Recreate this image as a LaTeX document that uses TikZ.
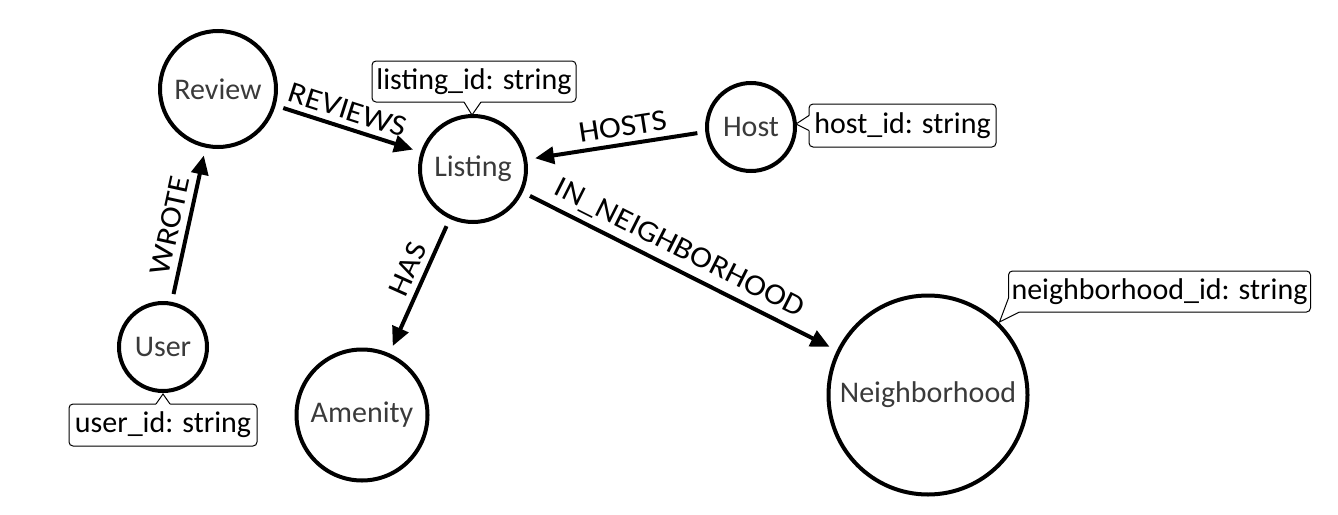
\documentclass[tikz,border=0pt]{standalone}
\usepackage{fontspec}
\setmainfont{Carlito}
\newfontfamily\edgefont[FakeStretch=1.1]{Carlito}
\usetikzlibrary{arrows.meta,calc}
\definecolor{nodegray}{HTML}{3A3A3A}
\begin{document}
\begin{tikzpicture}[x=1pt,y=-1pt,
  ent/.style={circle,draw,line width=4pt,inner sep=0pt,outer sep=0pt,text=nodegray,font=\fontsize{30}{34}\selectfont},
  rel/.style={line width=4pt,-{Triangle[length=19pt,width=17pt]},shorten <=10pt,shorten >=10pt},
  rlbl/.style={font=\edgefont\fontsize{30}{34}\selectfont,sloped,above=4pt,inner sep=2pt},
  prop/.style={draw,line width=1pt,rounded corners=4pt,fill=white,inner xsep=3pt,inner ysep=0pt,outer sep=0pt,minimum height=41pt,font=\fontsize{30}{34}\selectfont},
  ptr/.style={line width=1pt,line join=miter}
]
\useasboundingbox (0,0) rectangle (1338,514);

% entities
\node[ent,minimum size=116pt] (review) at (218,89) {Review};
\node[ent,minimum size=106pt] (listing) at (473,169) {Listing};
\node[ent,minimum size=88pt] (host) at (751,127) {Host};
\node[ent,minimum size=88pt] (user) at (163,347) {User};
\node[ent,minimum size=131pt] (amenity) at (362,415) {Amenity};
\node[ent,minimum size=199pt] (hood) at (928,395) {Neighborhood};

% relationships
\draw[rel] (user.79) -- node[rlbl,pos=0.47] {WROTE} (review.258);
\draw[rel] (review.-16) -- node[rlbl,pos=0.46] {REVIEWS} (listing.162);
\draw[rel] (host.186) -- node[rlbl,pos=0.45] {HOSTS} (listing.10);
\draw[rel] (listing.245) -- node[rlbl,pos=0.43] {HAS} (amenity.66);
\draw[rel] (listing.-25) -- node[rlbl,pos=0.47] {IN\_NEIGHBORHOOD} (hood.154);

% property callouts
\node[prop,minimum width=204pt] (plist) at (474,81.5) {listing\_id: string};
\coordinate (plistA) at ($(plist.south)+(-10,0)$);
\coordinate (plistB) at ($(plist.south)+(7,0)$);
\coordinate (plistT) at ($(listing.north)+(-1,-1)$);
\fill[white] ($(plistA)+(0,-1.5)$) -- (plistA) -- (plistT) -- (plistB) -- ($(plistB)+(0,-1.5)$) -- cycle;
\draw[ptr] (plistA) -- (plistT) -- (plistB);

\node[prop,minimum width=187pt,minimum height=43pt] (phost) at (902.5,125.5) {host\_id: string};
\coordinate (phostA) at ($(phost.west)+(0,-10)$);
\coordinate (phostB) at ($(phost.west)+(0,5)$);
\coordinate (phostT) at ($(host.east)+(1,-3)$);
\fill[white] ($(phostA)+(1.5,0)$) -- (phostA) -- (phostT) -- (phostB) -- ($(phostB)+(1.5,0)$) -- cycle;
\draw[ptr] (phostA) -- (phostT) -- (phostB);

\node[prop,minimum width=188pt,minimum height=42pt] (puser) at (163,425) {user\_id: string};
\coordinate (puserA) at ($(puser.north)+(-7,0)$);
\coordinate (puserB) at ($(puser.north)+(7,0)$);
\coordinate (puserT) at ($(user.south)+(0,3)$);
\fill[white] ($(puserA)+(0,1.5)$) -- (puserA) -- (puserT) -- (puserB) -- ($(puserB)+(0,1.5)$) -- cycle;
\draw[ptr] (puserA) -- (puserT) -- (puserB);

\node[prop,minimum width=297pt] (phood) at (1159.5,291.5) {neighborhood\_id: string};
\coordinate (phoodA) at ($(phood.south west)+(0,-14)$);
\coordinate (phoodB) at ($(phood.south west)+(11,0)$);
\coordinate (phoodT) at ($(phood.south west)+(-9,10)$);
\fill[white] ($(phoodA)+(1.5,0)$) -- (phoodA) -- (phoodT) -- (phoodB) -- ($(phoodB)+(0,-1.5)$) -- cycle;
\draw[ptr] (phoodA) -- (phoodT) -- (phoodB);
\end{tikzpicture}
\end{document}
